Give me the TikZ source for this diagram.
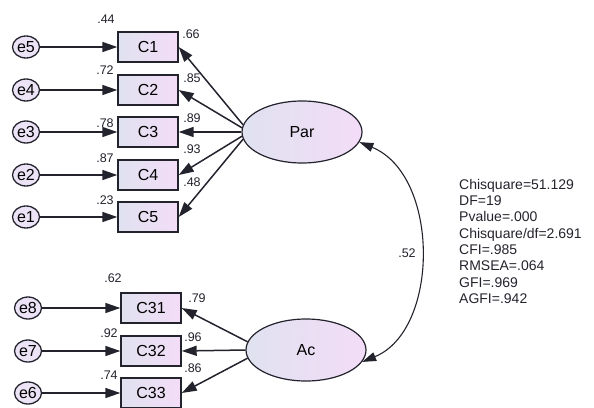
\documentclass[tikz,border=0pt]{standalone}
\usepackage{fontspec}
\setmainfont{Liberation Sans}
\usetikzlibrary{shapes.geometric,arrows.meta}
\definecolor{fillL}{RGB}{224,226,240}
\definecolor{fillR}{RGB}{243,220,247}
\definecolor{errfill}{RGB}{236,228,246}
\definecolor{ink}{RGB}{35,35,45}
\tikzset{
  err/.style={draw=ink, ellipse, minimum width=27pt, minimum height=22pt, inner sep=0pt,
    fill=errfill, font=\fontsize{16}{16}\selectfont, line width=1.3pt},
  obs/.style={draw=ink, rectangle, minimum width=60pt, minimum height=30pt, inner sep=0pt,
    left color=fillL, right color=fillR, font=\fontsize{16}{16}\selectfont, line width=1.4pt},
  lat/.style={draw=ink, ellipse, minimum width=120pt, minimum height=62pt, inner sep=0pt,
    left color=fillL, right color=fillR, font=\fontsize{16}{16}\selectfont, line width=1.2pt},
  est/.style={font=\fontsize{12.5}{12.5}\selectfont, inner sep=0pt, text=ink},
  reg/.style={-{Triangle[length=15pt,width=10pt]}, line width=1.5pt, draw=ink}
}
\begin{document}
\begin{tikzpicture}[x=1pt,y=-1pt]
    \useasboundingbox (0,0) rectangle (594,407);

    % Latent variables
    \node[lat] (Par) at (302,132) {Par};
    \node[lat] (Ac) at (306,350) {Ac};

    % Indicators of Par
    \node[obs] (C1) at (148,47) {C1};
    \node[obs] (C2) at (148,90) {C2};
    \node[obs] (C3) at (148,132) {C3};
    \node[obs] (C4) at (148,175) {C4};
    \node[obs] (C5) at (148,217) {C5};

    % Indicators of Ac
    \node[obs] (C31) at (151,308) {C31};
    \node[obs] (C32) at (151,351) {C32};
    \node[obs] (C33) at (151,393) {C33};

    % Error terms
    \node[err] (e5) at (26,47) {e5};
    \node[err] (e4) at (26,90) {e4};
    \node[err] (e3) at (26,132) {e3};
    \node[err] (e2) at (26,175) {e2};
    \node[err] (e1) at (26,217) {e1};
    \node[err] (e8) at (28,308) {e8};
    \node[err] (e7) at (28,351) {e7};
    \node[err] (e6) at (28,393) {e6};

    % Error arrows
    \draw[reg] (e5) -- (C1);
    \draw[reg] (e4) -- (C2);
    \draw[reg] (e3) -- (C3);
    \draw[reg] (e2) -- (C4);
    \draw[reg] (e1) -- (C5);
    \draw[reg] (e8) -- (C31);
    \draw[reg] (e7) -- (C32);
    \draw[reg] (e6) -- (C33);

    % Loadings
    \draw[reg] (Par.173) -- (C1.east);
    \draw[reg] (Par.176) -- (C2.east);
    \draw[reg] (Par.180) -- (C3.east);
    \draw[reg] (Par.184) -- (C4.east);
    \draw[reg] (Par.187) -- (C5.east);
    \draw[reg] (Ac.172) -- (C31.east);
    \draw[reg] (Ac.180) -- (C32.east);
    \draw[reg] (Ac.188) -- (C33.east);

    % Covariance
    \draw[{Triangle[length=14pt,width=9pt]}-{Triangle[length=14pt,width=9pt]}, line width=1.1pt, draw=ink]
        (Par.-10) .. controls (440,175) and (440,330) .. (Ac.-12);
    \node[est] (r) at (407,253) {.52};

    % Squared multiple correlations
    \node[est] (s1) at (106,19) {.44};
    \node[est] (s2) at (105,70) {.72};
    \node[est] (s3) at (105,123) {.78};
    \node[est] (s4) at (105,158) {.87};
    \node[est] (s5) at (105,200) {.23};
    \node[est] (s31) at (113,278) {.62};
    \node[est] (s32) at (109,333) {.92};
    \node[est] (s33) at (109,375) {.74};

    % Standardized loadings
    \node[est] (l1) at (191,34) {.66};
    \node[est] (l2) at (192,78) {.85};
    \node[est] (l3) at (192,118) {.89};
    \node[est] (l4) at (192,149) {.93};
    \node[est] (l5) at (192,182) {.48};
    \node[est] (l31) at (197,298) {.79};
    \node[est] (l32) at (193,337) {.96};
    \node[est] (l33) at (193,368) {.86};

    % Fit indices
    \node[anchor=north west, align=left, inner sep=0pt, text=ink,
          font=\fontsize{14}{16.3}\selectfont] (fit) at (459,179)
        {Chisquare=51.129\\DF=19\\Pvalue=.000\\Chisquare/df=2.691\\CFI=.985\\RMSEA=.064\\GFI=.969\\AGFI=.942};
\end{tikzpicture}
\end{document}
